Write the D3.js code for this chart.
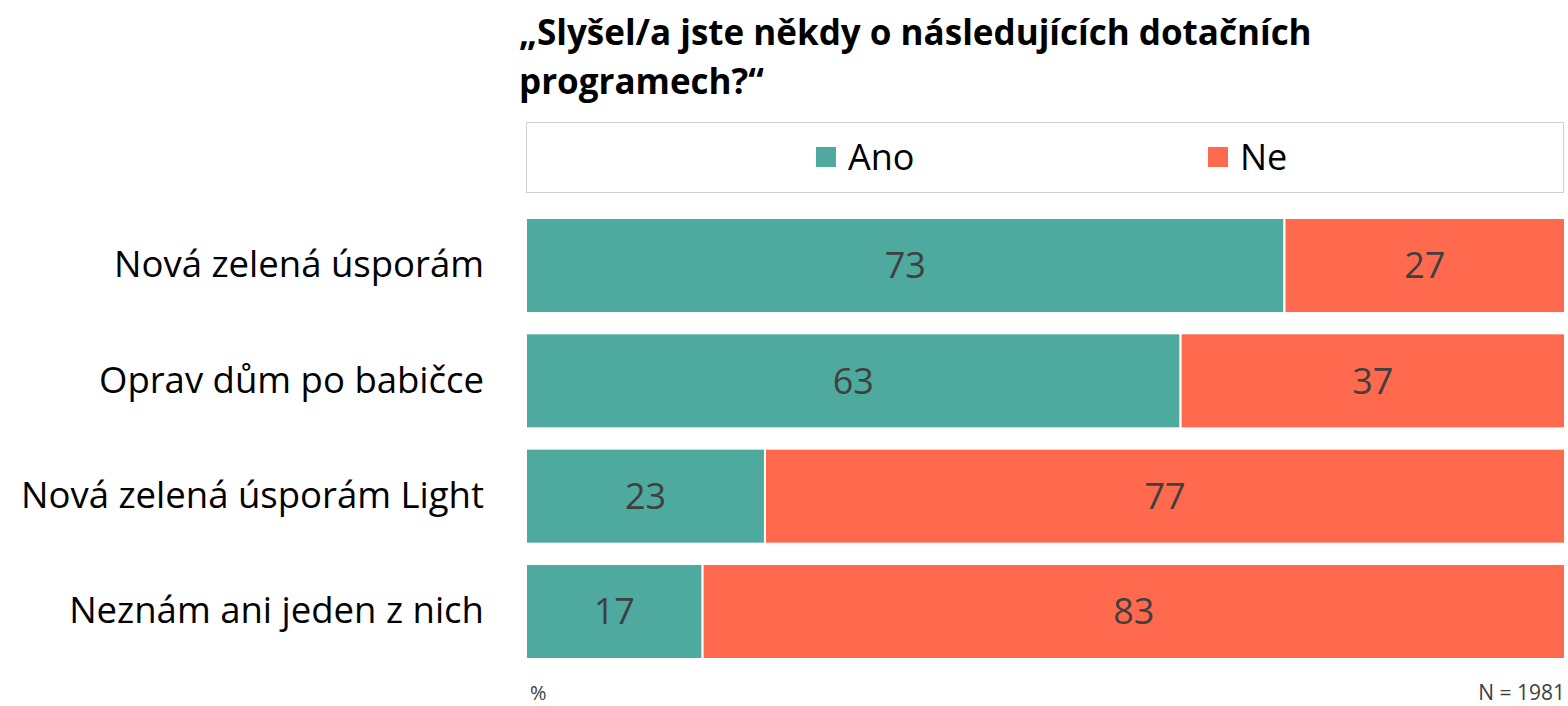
<!DOCTYPE html>
<html>
<head>
<meta charset="utf-8">
<script src="https://cdn.jsdelivr.net/npm/d3@7"></script>
<style>
  body { margin: 0; background: #fff; }
  text { font-family: "Open Sans", "Noto Sans", sans-serif; }
</style>
</head>
<body>
<svg id="chart" width="1568" height="706"></svg>
<script>
// data
var categories = ["Nová zelená úsporám", "Oprav dům po babičce", "Nová zelená úsporám Light", "Neznám ani jeden z nich"];
var ano = [73, 63, 23, 17];
var ne = [27, 37, 77, 83];
var seriesNames = ["Ano", "Ne"];
var colors = ["#4ea99f", "#ff6a4e"];

var svg = d3.select("#chart");

// title, two lines
var title = svg.append("text")
    .attr("x", 519)
    .attr("y", 45)
    .style("font-size", "35px")
    .style("font-weight", "bold")
    .attr("fill", "#000");
title.append("tspan").attr("x", 519).attr("dy", 0).text("„Slyšel/a jste někdy o následujících dotačních");
title.append("tspan").attr("x", 519).attr("dy", 49).text("programech?“");

// legend box
svg.append("rect")
    .attr("x", 526.5).attr("y", 122.5)
    .attr("width", 1037).attr("height", 70)
    .attr("fill", "#fff")
    .attr("stroke", "#d0d0d0");

var legendX = [816, 1208];
seriesNames.forEach(function(name, i) {
    svg.append("rect")
        .attr("x", legendX[i]).attr("y", 147)
        .attr("width", 20).attr("height", 20)
        .attr("fill", colors[i]);
    svg.append("text")
        .attr("x", legendX[i] + 32).attr("y", 170)
        .style("font-size", "36px")
        .attr("fill", "#000")
        .text(name);
});

// scales
var x = d3.scaleLinear().domain([0, 100]).range([526, 1565]);
var y = d3.scaleBand().domain(categories).range([218, 659]).paddingInner(0.176).paddingOuter(0);

var rows = categories.map(function(c, i) {
    return [
        { cat: c, s: 0, x0: 0, x1: ano[i], v: ano[i] },
        { cat: c, s: 1, x0: ano[i], x1: ano[i] + ne[i], v: ne[i] }
    ];
});
var segs = d3.merge(rows);

svg.append("g").selectAll("rect")
    .data(segs)
    .enter().append("rect")
    .attr("x", function(d) { return x(d.x0); })
    .attr("y", function(d) { return y(d.cat); })
    .attr("width", function(d) { return x(d.x1) - x(d.x0); })
    .attr("height", y.bandwidth())
    .attr("fill", function(d) { return colors[d.s]; })
    .attr("stroke", "#fff")
    .attr("stroke-width", 2);

svg.append("g").selectAll("text")
    .data(segs)
    .enter().append("text")
    .attr("x", function(d) { return (x(d.x0) + x(d.x1)) / 2; })
    .attr("y", function(d) { return y(d.cat) + y.bandwidth() / 2; })
    .attr("dy", "0.36em")
    .attr("text-anchor", "middle")
    .style("font-size", "36px")
    .attr("fill", "#404040")
    .text(function(d) { return d.v; });

// category axis, no line or ticks
var yAxis = svg.append("g")
    .attr("transform", "translate(484,0)")
    .call(d3.axisLeft(y).tickSize(0).tickPadding(0));
yAxis.select(".domain").remove();
yAxis.selectAll("text")
    .style("font-family", "\"Open Sans\", sans-serif")
    .style("font-size", "36.5px")
    .attr("fill", "#000");

// footer
svg.append("text")
    .attr("x", 530).attr("y", 700)
    .style("font-size", "20px")
    .attr("fill", "#404040")
    .text("%");
svg.append("text")
    .attr("x", 1565).attr("y", 700)
    .attr("text-anchor", "end")
    .style("font-size", "21px")
    .attr("fill", "#404040")
    .text("N = 1981");
</script>
</body>
</html>
